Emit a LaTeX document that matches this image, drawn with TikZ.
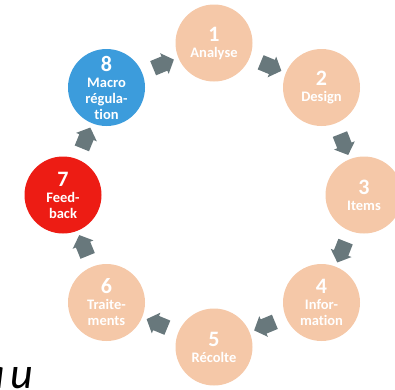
\documentclass[tikz,border=0pt]{standalone}
\usepackage{fontspec}
\setmainfont{Carlito}[Ligatures=NoCommon]
\usetikzlibrary{shapes.arrows}
\definecolor{peach}{RGB}{245,200,168}
\definecolor{stepblue}{RGB}{60,156,220}
\definecolor{stepred}{RGB}{237,28,20}
\definecolor{arrowgray}{RGB}{104,120,124}
\tikzset{
  stage/.style={circle, draw=none, fill=peach, minimum size=77pt, inner sep=0pt,
    align=center, text=white, font=\bfseries\fontsize{14.5}{16}\selectfont},
  blockarrow/.style={single arrow, fill=arrowgray, draw=none, inner sep=7.5pt,
    single arrow head extend=3.5pt, single arrow tip angle=95,
    minimum height=21pt}
}
\newcommand{\bignum}[1]{{\fontsize{22}{22}\selectfont #1}\\[0pt]}
\begin{document}
\begin{tikzpicture}[x=1pt,y=-1pt]
  \useasboundingbox (0,0) rectangle (395,389);
  \clip (0,0) rectangle (395,389);
  % the eight stages of the cycle
  \node[stage] (c1) at (214,43)      {\bignum{1}Analyse};
  \node[stage] (c2) at (321.5,87.5)  {\bignum{2}Design};
  \node[stage] (c3) at (364,195)     {\bignum{3}Items};
  \node[stage] (c4) at (321.5,302.5) {\bignum{4}Infor-\\mation};
  \node[stage] (c5) at (214,347)     {\bignum{5}Récolte};
  \node[stage] (c6) at (106.5,302.5) {\bignum{6}Traite-\\ments};
  \node[stage, fill=stepred]  (c7) at (63,195)     {\bignum{7}Feed-\\back};
  \node[stage, fill=stepblue] (c8) at (106.5,87.5) {\bignum{8}Macro\\régula-\\tion};
  % block arrows between consecutive stages, clockwise
  \foreach \a/\b in {c1/c2,c2/c3,c3/c4,c4/c5,c5/c6,c6/c7,c7/c8,c8/c1}
    \path (\a) -- (\b) node[midway, sloped, allow upside down, blockarrow] {};
  % partly hidden word at the lower left
  \node[anchor=base east, inner sep=0pt, font=\itshape\fontsize{44}{44}\selectfont]
    (au) at (33,388) {a\kern5pt u};
\end{tikzpicture}
\end{document}
